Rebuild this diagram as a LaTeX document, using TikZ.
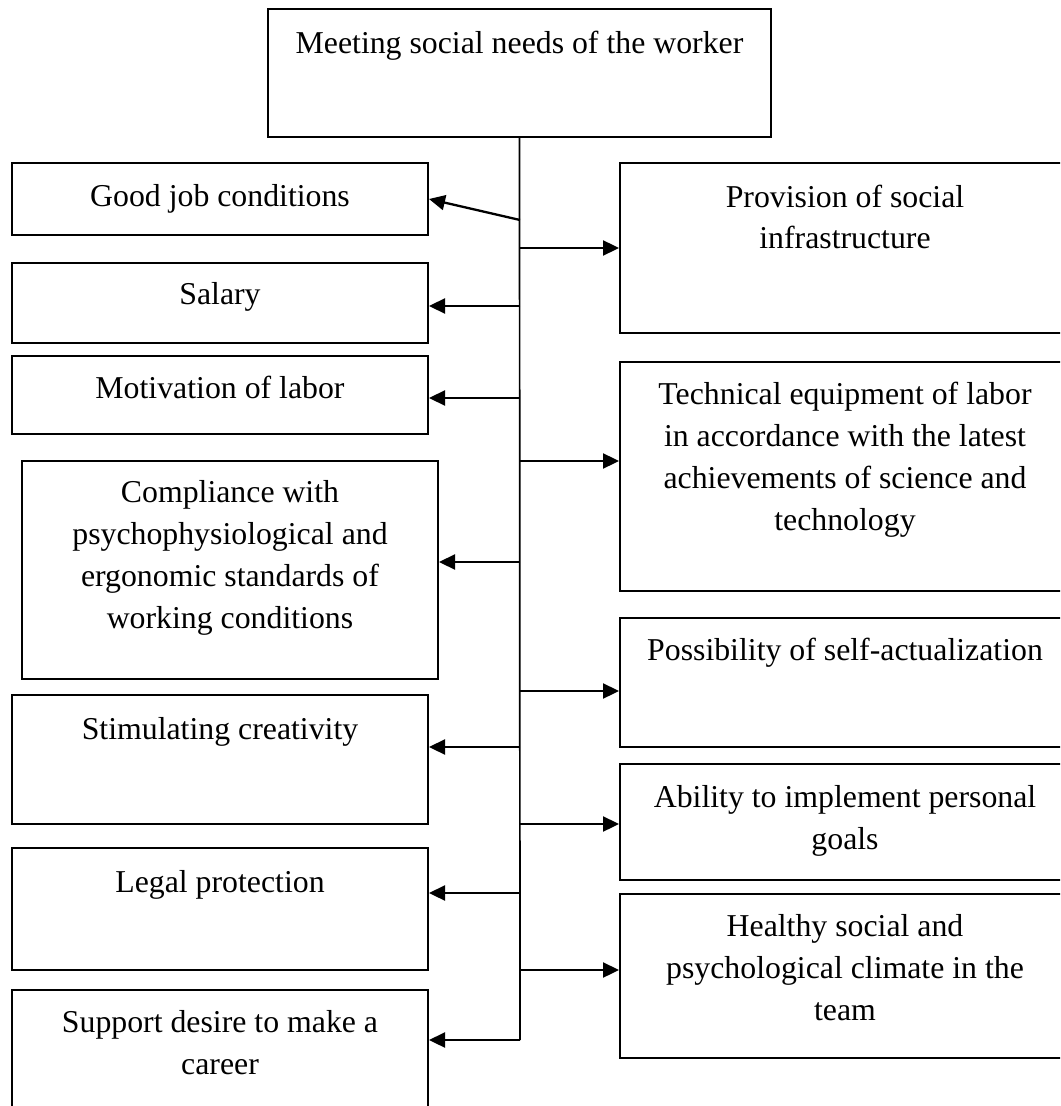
\documentclass[tikz,border=0pt]{standalone}
\usepackage{fontspec}
\setmainfont{Liberation Serif}
\usetikzlibrary{arrows.meta}
\begin{document}
\begin{tikzpicture}[x=0.5pt,y=-0.5pt,
  boxline/.style={draw,line width=1pt,inner sep=0pt},
  lbl/.style={anchor=base,align=center,inner sep=0pt,font=\fontsize{15.9pt}{20.85pt}\selectfont},
  trunkline/.style={line width=0.85pt},
  arr/.style={line width=1.15pt,-{Triangle[length=8pt,width=7.5pt]}}]
\useasboundingbox (0,0) rectangle (1060,1106);
\clip (0,0) rectangle (1060,1106);
% boxes
\node[boxline,minimum width=251.5pt,minimum height=64pt] (top) at (519.5,73) {};
\node[boxline,minimum width=208pt,minimum height=36pt] (good) at (220,199) {};
\node[boxline,minimum width=208pt,minimum height=40pt] (salary) at (220,303) {};
\node[boxline,minimum width=208pt,minimum height=39pt] (motiv) at (220,395) {};
\node[boxline,minimum width=208pt,minimum height=109pt] (compl) at (230,570) {};
\node[boxline,minimum width=208pt,minimum height=64.5pt] (stim) at (220,759.5) {};
\node[boxline,minimum width=208pt,minimum height=61pt] (legal) at (220,909) {};
\node[boxline,minimum width=208pt,minimum height=65pt] (support) at (220,1055) {};
\node[boxline,minimum width=225pt,minimum height=85pt] (prov) at (845,248) {};
\node[boxline,minimum width=225pt,minimum height=114.5pt] (tech) at (845,476.5) {};
\node[boxline,minimum width=225pt,minimum height=64.5pt] (poss) at (845,682.5) {};
\node[boxline,minimum width=225pt,minimum height=58pt] (abil) at (845,822) {};
\node[boxline,minimum width=225pt,minimum height=82pt] (heal) at (845,976) {};
% labels (anchor base = baseline of the last line)
\node[lbl] (ttop) at (519.5,54) {Meeting social needs of the worker};
\node[lbl] (tgood) at (220,207) {Good job conditions};
\node[lbl] (tsalary) at (220,305) {Salary};
\node[lbl] (tmotiv) at (220,399) {Motivation of labor};
\node[lbl] (tcompl) at (230,628) {Compliance with\\psychophysiological and\\ergonomic standards of\\working conditions};
\node[lbl] (tstim) at (220,739) {Stimulating creativity};
\node[lbl] (tlegal) at (220,892) {Legal protection};
\node[lbl] (tsupport) at (220,1074) {Support desire to make a\\career};
\node[lbl] (tprov) at (845,249) {Provision of social\\infrastructure};
\node[lbl] (ttech) at (845,530) {Technical equipment of labor\\in accordance with the latest\\achievements of science and\\technology};
\node[lbl] (tposs) at (845,660) {Possibility of self-actualization};
\node[lbl] (tabil) at (845,849) {Ability to implement personal\\goals};
\node[lbl] (theal) at (845,1020) {Healthy social and\\psychological climate in the\\team};
% trunk
\coordinate (tend) at (520,1040);
\draw[trunkline] (top.south) -- (tend);
% branch points
\coordinate (bgood) at (520,220);
\coordinate (bsalary) at (520,306);
\coordinate (bmotiv) at (520,398);
\coordinate (bcompl) at (520,562);
\coordinate (bstim) at (520,747);
\coordinate (blegal) at (520,893);
\coordinate (bprov) at (520,248);
\coordinate (btech) at (520,461);
\coordinate (bposs) at (520,691);
\coordinate (babil) at (520,824);
\coordinate (bheal) at (520,970);
\draw[arr] (bgood) -- (good.east);
\draw[arr] (bsalary) -- (bsalary -| salary.east);
\draw[arr] (bmotiv) -- (bmotiv -| motiv.east);
\draw[arr] (bcompl) -- (bcompl -| compl.east);
\draw[arr] (bstim) -- (bstim -| stim.east);
\draw[arr] (blegal) -- (blegal -| legal.east);
\draw[arr] (tend) -- (tend -| support.east);
\draw[arr] (bprov) -- (bprov -| prov.west);
\draw[arr] (btech) -- (btech -| tech.west);
\draw[arr] (bposs) -- (bposs -| poss.west);
\draw[arr] (babil) -- (babil -| abil.west);
\draw[arr] (bheal) -- (bheal -| heal.west);
\end{tikzpicture}
\end{document}
